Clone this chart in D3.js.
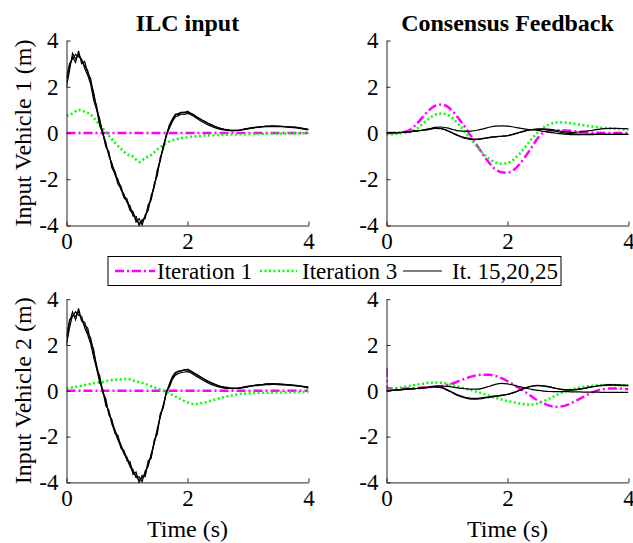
<!DOCTYPE html>
<meta charset="utf-8">
<head>
    <title>ILC input and consensus feedback</title>
    <script src="https://d3js.org/d3.v7.min.js"></script>
    <style>
        body { margin: 0; background: #fff; }
        svg { display: block; }
        text { font-family: 'Liberation Serif', 'Times New Roman', serif; fill: #000; }
        .axis path, .axis line { stroke: #262626; stroke-width: 1; }
        .axis text { font-size: 23px; font-family: 'Liberation Serif', serif; fill: #000; }
        text.title { font-size: 24px; font-weight: bold; }
        text.label { font-size: 24px; }
        text.legend { font-size: 23px; }
        .iter1 { fill: none; stroke: #ff00ff; stroke-width: 2.5; stroke-dasharray: 9 3 2 3; }
        .iter3 { fill: none; stroke: #00ff00; stroke-width: 2.5; stroke-dasharray: 2 2.5; }
        .conv { fill: none; stroke: #000; stroke-width: 1.2; }
    </style>
</head>
<body>
<svg width="633" height="543"></svg>
<script>
    // sample times (s)
    const tFine = d3.range(81).map((i) => i * 0.05);
    const tCoarse = d3.range(41).map((i) => i * 0.1);
    const tSpike = [0, 0.01].concat(tCoarse.slice(1));

    const xTicks = [0, 2, 4];
    const yTicks = [-4, -2, 0, 2, 4];
    const titles = ['ILC input', 'Consensus Feedback'];
    const yLabels = ['Input Vehicle 1 (m)', 'Input Vehicle 2 (m)'];
    const legendNames = ['Iteration 1', 'Iteration 3', 'It. 15,20,25'];

    // ILC input, vehicle 1
    const ilcIter1V1 = [0,0,0,0,0,0,0,0,0,0,0,0,0,0,0,0,0,0,0,0,0,0,0,0,0,0,0,0,0,0,0,0,0,0,0,0,0,0,0,0,0];
    const ilcIter3V1 = [0.75,0.85,1.0,0.92,0.8,0.5,0.2,-0.12,-0.42,-0.68,-0.92,-1.02,-1.25,-1.08,-0.95,-0.72,-0.52,-0.37,-0.28,-0.22,
        -0.18,-0.15,-0.13,-0.11,-0.1,-0.09,-0.08,-0.07,-0.06,-0.05,-0.05,-0.04,-0.04,-0.03,-0.03,-0.03,-0.02,-0.02,-0.02,-0.01,-0.01];
    const ilcIt15V1 = [2.2,2.9,3.3,3.05,3.55,3.0,3.1,2.6,2.35,1.6,1.15,0.45,0.05,-0.55,-0.9,-1.4,-1.65,-2.1,-2.3,-2.75,
        -2.85,-3.3,-3.4,-3.85,-3.7,-3.98,-3.55,-3.35,-2.7,-2.35,-1.6,-1.2,-0.55,-0.1,0.35,0.6,0.82,0.8,0.9,0.86,
        0.94,0.86,0.8,0.7,0.63,0.55,0.48,0.41,0.35,0.29,0.24,0.2,0.17,0.15,0.13,0.12,0.12,0.13,0.15,0.18,
        0.2,0.22,0.24,0.25,0.26,0.28,0.3,0.29,0.3,0.3,0.29,0.29,0.28,0.27,0.26,0.25,0.24,0.22,0.2,0.18,0.15];
    const ilcIt20V1 = [2.0,2.7,3.45,3.2,3.4,3.15,2.9,2.7,2.2,1.75,1.0,0.6,-0.05,-0.4,-1.0,-1.3,-1.8,-2.0,-2.45,-2.65,
        -3.0,-3.15,-3.6,-3.6,-4.0,-3.75,-3.7,-3.1,-2.9,-2.2,-1.85,-1.05,-0.7,-0.05,0.2,0.5,0.7,0.75,0.82,0.8,
        0.85,0.8,0.72,0.64,0.55,0.48,0.4,0.34,0.28,0.23,0.19,0.16,0.13,0.11,0.1,0.09,0.1,0.11,0.13,0.16,
        0.18,0.2,0.22,0.24,0.25,0.26,0.27,0.28,0.28,0.28,0.27,0.27,0.26,0.25,0.24,0.23,0.22,0.2,0.18,0.16,0.13];
    const ilcIt25V1 = [2.4,3.0,3.2,3.4,3.3,3.2,2.8,2.5,2.1,1.4,1.0,0.3,0.0,-0.6,-0.8,-1.5,-1.75,-2.2,-2.4,-2.8,
        -2.95,-3.35,-3.5,-3.75,-3.9,-3.85,-3.6,-3.25,-2.8,-2.3,-1.75,-1.15,-0.6,-0.15,0.3,0.55,0.78,0.85,0.88,0.9,
        0.9,0.84,0.78,0.69,0.62,0.54,0.47,0.4,0.34,0.28,0.23,0.19,0.16,0.14,0.12,0.11,0.11,0.12,0.14,0.17,
        0.19,0.21,0.23,0.25,0.27,0.28,0.29,0.3,0.31,0.3,0.3,0.29,0.28,0.27,0.26,0.25,0.24,0.22,0.2,0.18,0.16];

    // ILC input, vehicle 2
    const ilcIter1V2 = [0,0,0,0,0,0,0,0,0,0,0,0,0,0,0,0,0,0,0,0,0,0,0,0,0,0,0,0,0,0,0,0,0,0,0,0,0,0,0,0,0];
    const ilcIter3V2 = [0.1,0.15,0.2,0.25,0.3,0.35,0.38,0.45,0.48,0.5,0.52,0.45,0.38,0.3,0.2,0.1,0.0,-0.12,-0.25,-0.38,
        -0.5,-0.58,-0.55,-0.5,-0.42,-0.35,-0.28,-0.22,-0.17,-0.13,-0.12,-0.1,-0.09,-0.08,-0.08,-0.07,-0.07,-0.06,-0.06,-0.05,-0.05];
    const ilcIt15V2 = [2.1,3.0,3.45,3.1,3.6,3.05,3.0,2.55,2.3,1.65,1.1,0.5,0.0,-0.5,-0.95,-1.35,-1.7,-2.05,-2.35,-2.7,
        -2.9,-3.25,-3.45,-3.8,-3.75,-3.97,-3.5,-3.3,-2.75,-2.3,-1.65,-1.15,-0.6,-0.1,0.3,0.62,0.8,0.85,0.88,0.9,
        0.95,0.88,0.8,0.72,0.64,0.56,0.48,0.41,0.35,0.29,0.24,0.2,0.17,0.15,0.13,0.12,0.12,0.13,0.15,0.18,
        0.2,0.22,0.24,0.26,0.27,0.28,0.3,0.3,0.31,0.3,0.3,0.29,0.28,0.27,0.26,0.25,0.24,0.22,0.2,0.18,0.16];
    const ilcIt20V2 = [2.0,2.75,3.3,3.25,3.45,3.1,2.85,2.75,2.15,1.8,0.95,0.65,-0.1,-0.35,-1.05,-1.25,-1.85,-1.95,-2.5,-2.6,
        -3.05,-3.1,-3.65,-3.55,-4.0,-3.7,-3.75,-3.05,-2.95,-2.15,-1.9,-1.0,-0.75,0.0,0.15,0.5,0.68,0.76,0.8,0.82,
        0.84,0.79,0.71,0.63,0.55,0.47,0.4,0.33,0.27,0.22,0.18,0.15,0.12,0.11,0.1,0.09,0.1,0.11,0.13,0.15,
        0.17,0.2,0.22,0.23,0.25,0.26,0.27,0.27,0.28,0.28,0.27,0.26,0.26,0.25,0.24,0.23,0.21,0.2,0.18,0.15,0.12];
    const ilcIt25V2 = [2.35,3.1,3.25,3.45,3.3,3.25,2.75,2.45,2.05,1.45,0.95,0.35,0.05,-0.65,-0.85,-1.45,-1.8,-2.15,-2.45,-2.75,
        -3.0,-3.3,-3.55,-3.7,-3.92,-3.8,-3.65,-3.2,-2.85,-2.25,-1.8,-1.1,-0.65,-0.1,0.25,0.55,0.75,0.86,0.87,0.92,
        0.9,0.85,0.77,0.7,0.61,0.53,0.46,0.39,0.33,0.27,0.22,0.18,0.15,0.13,0.12,0.11,0.11,0.12,0.14,0.16,
        0.19,0.21,0.23,0.25,0.26,0.27,0.29,0.3,0.3,0.29,0.29,0.28,0.27,0.26,0.25,0.24,0.23,0.21,0.19,0.17,0.15];

    // consensus feedback, vehicle 1
    const fbIter1V1 = [0,0,0.02,0.05,0.15,0.4,0.7,0.98,1.17,1.23,1.15,0.92,0.6,0.25,-0.15,-0.55,-0.95,-1.3,-1.57,-1.7,
        -1.72,-1.6,-1.35,-1.0,-0.62,-0.22,0.02,0.1,0.12,0.12,0.1,0.08,0.05,0.03,0.02,0.01,0,0,0,0,0];
    const fbIter3V1 = [-0.05,-0.05,-0.03,0,0.05,0.18,0.4,0.62,0.78,0.84,0.8,0.62,0.35,0.05,-0.28,-0.6,-0.9,-1.12,-1.27,-1.33,
        -1.3,-1.15,-0.9,-0.58,-0.25,0.03,0.25,0.38,0.45,0.46,0.44,0.4,0.36,0.32,0.28,0.25,0.22,0.2,0.18,0.16,0.15];
    const fbIt15V1 = [0,0.01,0.02,0.04,0.06,0.09,0.13,0.18,0.24,0.26,0.22,0.15,0.09,0.07,0.08,0.12,0.18,0.25,0.3,0.31,
        0.3,0.26,0.21,0.17,0.14,0.11,0.07,0.03,-0.01,-0.04,-0.06,-0.07,-0.07,-0.07,-0.07,-0.06,-0.06,-0.06,-0.06,-0.06,-0.06];
    const fbIt20V1 = [0,0.01,0.02,0.04,0.06,0.09,0.12,0.16,0.2,0.19,0.1,-0.02,-0.14,-0.23,-0.28,-0.28,-0.24,-0.2,-0.17,-0.14,
        -0.12,-0.06,0.02,0.09,0.14,0.17,0.18,0.16,0.12,0.07,0.04,0.03,0.05,0.08,0.12,0.16,0.19,0.2,0.2,0.19,0.18];
    const fbIt25V1 = [0,0.01,0.02,0.04,0.06,0.09,0.12,0.16,0.21,0.2,0.12,0,-0.12,-0.2,-0.25,-0.26,-0.23,-0.19,-0.16,-0.14,
        -0.11,-0.05,0.03,0.1,0.15,0.17,0.16,0.12,0.07,0.02,-0.02,-0.04,-0.05,-0.05,-0.05,-0.05,-0.05,-0.06,-0.06,-0.06,-0.06];

    // consensus feedback, vehicle 2
    const fbIter1V2 = [1.0,0.1,0.1,0.1,0.1,0.11,0.12,0.14,0.16,0.18,0.2,0.25,0.33,0.43,0.53,0.62,0.68,0.7,0.7,0.65,0.55,
        0.42,0.27,0.1,-0.07,-0.25,-0.42,-0.56,-0.66,-0.7,-0.68,-0.6,-0.48,-0.34,-0.2,-0.07,0.03,0.08,0.1,0.1,0.09,0.07];
    const fbIter3V2 = [0.05,0.08,0.12,0.17,0.22,0.27,0.31,0.35,0.36,0.35,0.3,0.24,0.17,0.1,0.03,-0.05,-0.13,-0.22,-0.3,-0.38,
        -0.45,-0.5,-0.55,-0.59,-0.6,-0.55,-0.45,-0.33,-0.2,-0.08,0.02,0.09,0.15,0.19,0.22,0.24,0.25,0.25,0.25,0.24,0.24];
    const fbIt15V2 = [0,0.02,0.04,0.06,0.08,0.1,0.13,0.17,0.2,0.21,0.19,0.16,0.12,0.09,0.07,0.07,0.12,0.2,0.28,0.32,
        0.3,0.25,0.18,0.12,0.06,0.02,-0.01,-0.03,-0.04,-0.04,-0.04,-0.05,-0.05,-0.06,-0.06,-0.06,-0.07,-0.07,-0.07,-0.07,-0.07];
    const fbIt20V2 = [0,0.02,0.04,0.06,0.08,0.1,0.12,0.15,0.18,0.16,0.05,-0.08,-0.2,-0.28,-0.33,-0.33,-0.3,-0.26,-0.22,-0.19,
        -0.15,-0.08,0.02,0.12,0.2,0.22,0.2,0.16,0.1,0.05,0.03,0.04,0.07,0.12,0.17,0.21,0.24,0.25,0.24,0.23,0.22];
    const fbIt25V2 = [0,0.02,0.04,0.06,0.08,0.1,0.12,0.15,0.17,0.14,0.03,-0.1,-0.23,-0.31,-0.36,-0.36,-0.33,-0.29,-0.25,-0.21,
        -0.16,-0.08,0.03,0.13,0.21,0.24,0.22,0.17,0.11,0.06,0.04,0.05,0.08,0.13,0.18,0.22,0.25,0.27,0.26,0.25,0.24];

    const cols = [[66.5, 308.5], [386.5, 628.5]];
    const rows = [[40.5, 225.5], [299.2, 482.4]];

    const panels = [
        {col: 0, row: 0, iter1: [tCoarse, ilcIter1V1], iter3: [tCoarse, ilcIter3V1],
            conv: [[tFine, ilcIt15V1], [tFine, ilcIt20V1], [tFine, ilcIt25V1]]},
        {col: 1, row: 0, iter1: [tCoarse, fbIter1V1], iter3: [tCoarse, fbIter3V1],
            conv: [[tCoarse, fbIt15V1], [tCoarse, fbIt20V1], [tCoarse, fbIt25V1]]},
        {col: 0, row: 1, iter1: [tCoarse, ilcIter1V2], iter3: [tCoarse, ilcIter3V2],
            conv: [[tFine, ilcIt15V2], [tFine, ilcIt20V2], [tFine, ilcIt25V2]]},
        {col: 1, row: 1, iter1: [tSpike, fbIter1V2], iter3: [tCoarse, fbIter3V2],
            conv: [[tCoarse, fbIt15V2], [tCoarse, fbIt20V2], [tCoarse, fbIt25V2]]}
    ];

    const svg = d3.select('svg');

    panels.forEach((p, i) => {
        const x = d3.scaleLinear().domain([0, 4]).range(cols[p.col]);
        const y = d3.scaleLinear().domain([-4, 4]).range([rows[p.row][1], rows[p.row][0]]);
        const g = svg.append('g');

        g.append('clipPath').attr('id', 'clip' + i)
            .append('rect')
            .attr('x', x(0)).attr('y', y(4) - 2)
            .attr('width', x(4) - x(0)).attr('height', y(-4) - y(4) + 4);

        const smooth = d3.line().x((d) => x(d[0])).y((d) => y(d[1])).curve(d3.curveMonotoneX);
        const plain = d3.line().x((d) => x(d[0])).y((d) => y(d[1]));

        const plot = g.append('g').attr('clip-path', `url(#clip${i})`);
        plot.append('path').attr('class', 'iter1').attr('d', smooth(d3.zip(...p.iter1)));
        plot.append('path').attr('class', 'iter3').attr('d', smooth(d3.zip(...p.iter3)));
        p.conv.forEach((s) => {
            plot.append('path').attr('class', 'conv')
                .attr('d', (s[0] === tFine ? plain : smooth)(d3.zip(...s)));
        });

        g.append('g').attr('class', 'axis')
            .attr('transform', `translate(0, ${y(-4)})`)
            .call(d3.axisBottom(x).tickValues(xTicks).tickFormat((d) => String(d))
                .tickSizeInner(-4).tickSizeOuter(0).tickPadding(7));

        g.append('g').attr('class', 'axis')
            .attr('transform', `translate(${x(0)}, 0)`)
            .call(d3.axisLeft(y).tickValues(yTicks).tickFormat((d) => String(d))
                .tickSizeInner(-4).tickSizeOuter(0).tickPadding(8));

        if (p.row === 0) {
            g.append('text').attr('class', 'title')
                .attr('x', (x(0) + x(4)) / 2).attr('y', 31)
                .attr('text-anchor', 'middle')
                .text(titles[p.col]);
        } else {
            g.append('text').attr('class', 'label')
                .attr('x', (x(0) + x(4)) / 2).attr('y', 537)
                .attr('text-anchor', 'middle')
                .text('Time (s)');
        }
        if (p.col === 0) {
            g.append('text').attr('class', 'label')
                .attr('transform', `translate(31, ${(y(4) + y(-4)) / 2}) rotate(-90)`)
                .attr('text-anchor', 'middle')
                .text(yLabels[p.row]);
        }
    });

    // legend
    const legend = svg.append('g');
    legend.append('rect')
        .attr('x', 108).attr('y', 256.5).attr('width', 453).attr('height', 29)
        .attr('fill', '#fff').attr('stroke', '#000').attr('stroke-width', 1);
    const legendItems = [
        {cls: 'iter1', x1: 115, x2: 155, tx: 157},
        {cls: 'iter3', x1: 260, x2: 297, tx: 302},
        {cls: 'conv', x1: 403, x2: 442, tx: 452}
    ];
    legendItems.forEach((d, i) => {
        legend.append('line').attr('class', d.cls)
            .attr('x1', d.x1).attr('x2', d.x2).attr('y1', 271).attr('y2', 271);
        legend.append('text').attr('class', 'legend')
            .attr('x', d.tx).attr('y', 279)
            .text(legendNames[i]);
    });
</script>
</body>
